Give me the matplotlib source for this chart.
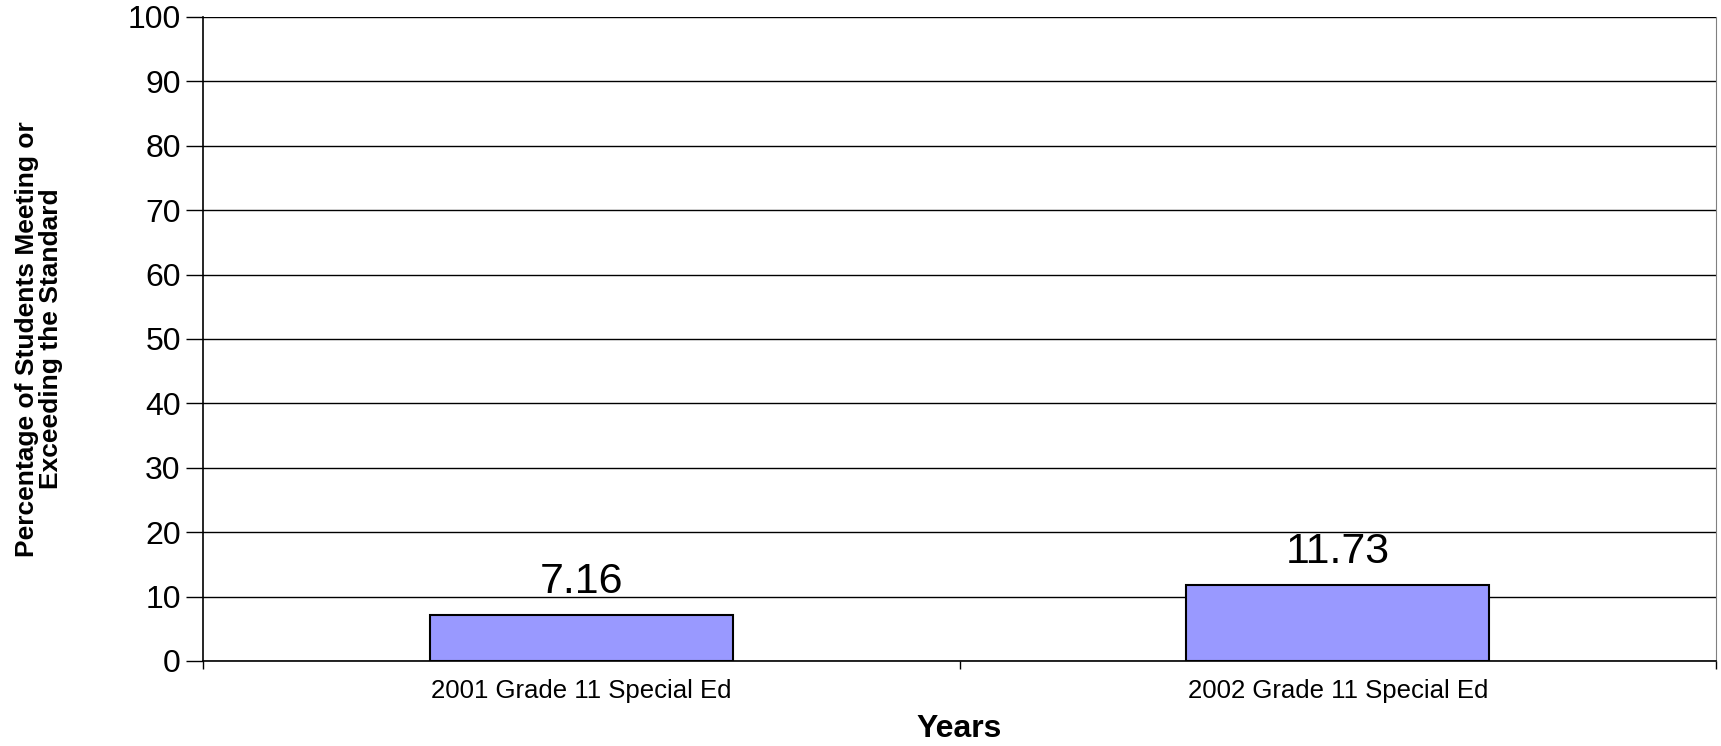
import numpy as np
import matplotlib
matplotlib.use("Agg")
import matplotlib.pyplot as plt

# data
categories = ["2001 Grade 11 Special Ed", "2002 Grade 11 Special Ed"]
values = [7.16, 11.73]
y_ticks = list(range(0, 101, 10))

plt.rcParams["font.family"] = ["Liberation Sans", "DejaVu Sans"]

fig = plt.figure(figsize=(17.21, 7.46), dpi=100)
ax = fig.add_axes([203 / 1721, 1 - 661 / 746, (1716 - 203) / 1721, (661 - 17) / 746])

x = np.arange(len(categories))
bars = ax.bar(x, values, width=0.4, color="#9999FF", edgecolor="black", linewidth=1.5, zorder=3)

for b, v in zip(bars, values):
    ax.annotate(f"{v:.2f}", (b.get_x() + b.get_width() / 2, b.get_height()),
                xytext=(0, 24), textcoords="offset points",
                ha="center", va="center", fontsize=31, zorder=4)

ax.set_xlim(-0.5, len(categories) - 0.5)
ax.set_ylim(0, 100)
ax.set_yticks(y_ticks)
ax.yaxis.grid(True, color="black", linewidth=1.0, zorder=0)
ax.set_axisbelow(True)

# labels at category centres, tick marks at category boundaries
ax.set_xticks(x)
ax.set_xticklabels(categories, fontsize=18.5)
ax.set_xticks(np.arange(-0.5, len(categories), 1.0), minor=True)
ax.tick_params(axis="x", which="major", length=0, pad=13)
ax.tick_params(axis="x", which="minor", length=6, width=1, direction="out")
ax.tick_params(axis="y", labelsize=23, length=12, width=1, pad=4)

ax.spines["top"].set_visible(False)
ax.spines["right"].set_color("#808080")
ax.spines["left"].set_linewidth(1.2)
ax.spines["bottom"].set_linewidth(1.2)

ax.set_xlabel("Years", fontsize=23, fontweight="bold", va="center")
ax.xaxis.set_label_coords(0.5, (661 - 729) / 644)
ax.set_ylabel("Percentage of Students Meeting or\nExceeding the Standard",
              fontsize=19, fontweight="bold", va="center", linespacing=1.05)
ax.yaxis.set_label_coords((39 - 203) / 1513, 0.5)

fig.savefig("out.png", dpi=100)
